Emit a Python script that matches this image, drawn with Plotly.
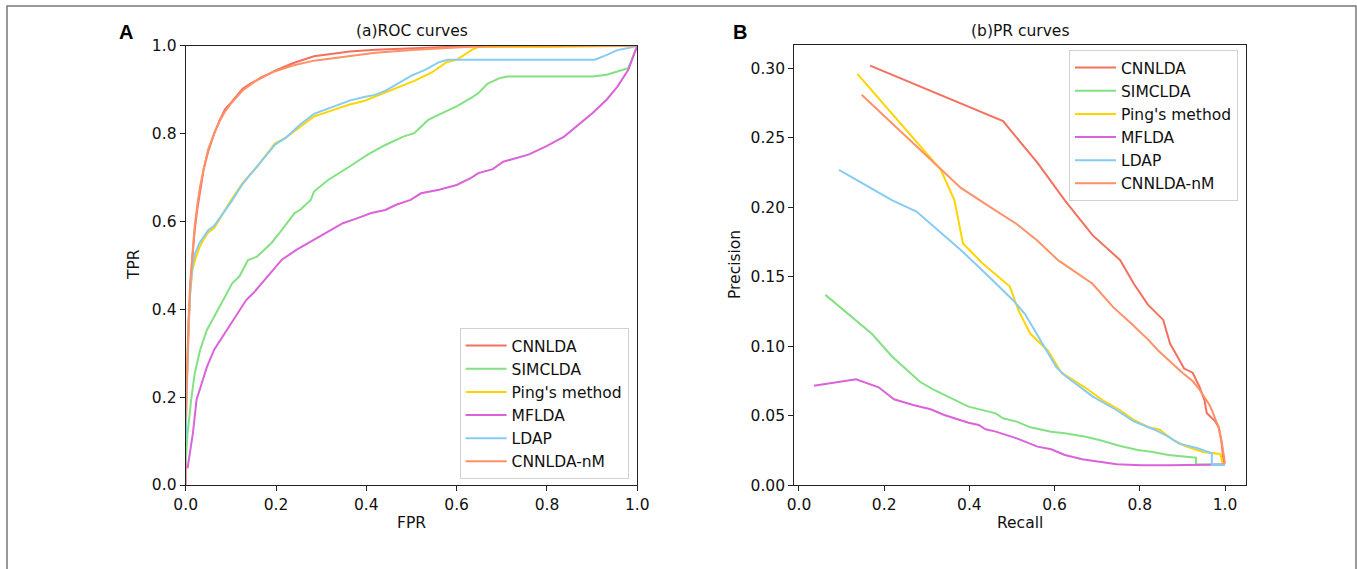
import plotly.graph_objects as go

# ---------------- data ----------------
methods = ["CNNLDA", "SIMCLDA", "Ping's method", "MFLDA", "LDAP", "CNNLDA-nM"]
colors = ["#F4705F", "#82E282", "#FFD400", "#DA62DA", "#86CBF5", "#FF9166"]

# ROC curves (FPR, TPR)
roc_cnnlda_fpr = [0, 0, 0.003, 0.006, 0.010, 0.015, 0.020, 0.026, 0.032, 0.040, 0.050, 0.063, 0.075, 0.087, 0.100,
                  0.126, 0.145, 0.166, 0.198, 0.237, 0.284, 0.330, 0.363, 0.420, 0.521, 0.600, 0.650, 0.800, 1.0]
roc_cnnlda_tpr = [0, 0.13, 0.25, 0.35, 0.45, 0.52, 0.58, 0.63, 0.67, 0.72, 0.76, 0.80, 0.83, 0.855, 0.87,
                  0.902, 0.915, 0.926, 0.943, 0.960, 0.976, 0.982, 0.987, 0.991, 0.995, 0.998, 1.0, 1.0, 1.0]

roc_simclda_fpr = [0, 0.004, 0.012, 0.020, 0.032, 0.047, 0.063, 0.083, 0.103, 0.119, 0.138, 0.158, 0.190, 0.213,
                   0.241, 0.253, 0.277, 0.284, 0.316, 0.363, 0.403, 0.442, 0.482, 0.506, 0.537, 0.569, 0.600, 0.632,
                   0.648, 0.668, 0.695, 0.711, 0.800, 0.901, 0.932, 0.956, 0.980, 1.0]
roc_simclda_tpr = [0.05, 0.117, 0.193, 0.254, 0.308, 0.353, 0.383, 0.421, 0.459, 0.475, 0.512, 0.52, 0.551, 0.581,
                   0.619, 0.626, 0.649, 0.668, 0.695, 0.725, 0.752, 0.774, 0.793, 0.801, 0.831, 0.847, 0.862, 0.881,
                   0.892, 0.913, 0.926, 0.930, 0.930, 0.930, 0.934, 0.941, 0.949, 1.0]

roc_ping_fpr = [0, 0.003, 0.006, 0.010, 0.015, 0.020, 0.030, 0.040, 0.050, 0.063, 0.087, 0.101, 0.126, 0.158,
                0.198, 0.221, 0.253, 0.284, 0.316, 0.363, 0.395, 0.419, 0.442, 0.482, 0.506, 0.545, 0.577, 0.600,
                0.624, 0.636, 0.648, 0.700, 0.800, 1.0]
roc_ping_tpr = [0.14, 0.26, 0.36, 0.44, 0.49, 0.51, 0.54, 0.56, 0.575, 0.585, 0.626, 0.649, 0.687, 0.725,
                0.778, 0.79, 0.815, 0.839, 0.85, 0.866, 0.874, 0.884, 0.895, 0.910, 0.920, 0.939, 0.962, 0.968,
                0.983, 0.992, 0.997, 0.997, 0.997, 1.0]

roc_mflda_fpr = [0.004, 0.016, 0.024, 0.047, 0.063, 0.087, 0.111, 0.134, 0.150, 0.182, 0.213, 0.245, 0.284, 0.316,
                 0.348, 0.379, 0.411, 0.442, 0.466, 0.498, 0.521, 0.561, 0.600, 0.632, 0.648, 0.680, 0.703, 0.759,
                 0.798, 0.838, 0.869, 0.901, 0.932, 0.956, 0.980, 1.0]
roc_mflda_tpr = [0.038, 0.118, 0.194, 0.269, 0.308, 0.346, 0.383, 0.421, 0.437, 0.475, 0.513, 0.535, 0.558, 0.577,
                 0.596, 0.607, 0.619, 0.626, 0.638, 0.649, 0.664, 0.672, 0.683, 0.699, 0.710, 0.719, 0.736, 0.752,
                 0.771, 0.793, 0.820, 0.847, 0.877, 0.907, 0.945, 1.0]

roc_ldap_fpr = [0, 0.003, 0.006, 0.010, 0.015, 0.020, 0.030, 0.040, 0.050, 0.063, 0.087, 0.101, 0.126, 0.158,
                0.198, 0.221, 0.253, 0.284, 0.316, 0.363, 0.395, 0.419, 0.442, 0.482, 0.500, 0.530, 0.560, 0.580,
                0.700, 0.800, 0.906, 0.930, 0.956, 0.980, 1.0]
roc_ldap_tpr = [0.10, 0.25, 0.36, 0.44, 0.50, 0.525, 0.55, 0.565, 0.58, 0.59, 0.625, 0.645, 0.685, 0.725,
                0.775, 0.79, 0.82, 0.845, 0.857, 0.875, 0.883, 0.888, 0.897, 0.92, 0.932, 0.945, 0.962, 0.968,
                0.968, 0.968, 0.968, 0.978, 0.99, 0.995, 1.0]

roc_nm_fpr = [0, 0.003, 0.006, 0.010, 0.015, 0.020, 0.026, 0.032, 0.040, 0.050, 0.063, 0.075, 0.087, 0.100, 0.126,
              0.145, 0.166, 0.198, 0.237, 0.284, 0.330, 0.380, 0.420, 0.500, 0.560, 0.620, 0.680, 0.800, 1.0]
roc_nm_tpr = [0.15, 0.27, 0.37, 0.46, 0.53, 0.59, 0.64, 0.68, 0.72, 0.765, 0.80, 0.828, 0.85, 0.868, 0.898,
              0.913, 0.928, 0.942, 0.955, 0.966, 0.972, 0.98, 0.984, 0.99, 0.994, 0.997, 0.999, 1.0, 1.0]

# PR curves (Recall, Precision)
pr_cnnlda_rec = [0.167, 0.479, 0.560, 0.624, 0.689, 0.754, 0.786, 0.819, 0.855, 0.871, 0.884, 0.904, 0.924, 0.940,
                 0.952, 0.957, 0.977, 0.985, 0.991, 0.997, 1.0]
pr_cnnlda_pre = [0.302, 0.262, 0.232, 0.205, 0.180, 0.162, 0.145, 0.130, 0.119, 0.102, 0.095, 0.084, 0.081, 0.071,
                 0.061, 0.052, 0.046, 0.042, 0.033, 0.016, 0.015]

pr_simclda_rec = [0.062, 0.171, 0.219, 0.284, 0.317, 0.398, 0.462, 0.479, 0.511, 0.543, 0.592, 0.624, 0.673, 0.705,
                  0.754, 0.795, 0.827, 0.867, 0.932, 0.932, 1.0]
pr_simclda_pre = [0.137, 0.109, 0.0925, 0.0745, 0.0686, 0.0566, 0.0518, 0.0482, 0.0458, 0.0417, 0.0386, 0.0374,
                  0.035, 0.0326, 0.0283, 0.0254, 0.0242, 0.0218, 0.0199, 0.0149, 0.015]

pr_ping_rec = [0.137, 0.333, 0.365, 0.385, 0.430, 0.495, 0.515, 0.543, 0.584, 0.616, 0.673, 0.714, 0.754, 0.786,
               0.819, 0.847, 0.876, 0.908, 0.948, 0.989, 0.995, 1.0]
pr_ping_pre = [0.296, 0.227, 0.205, 0.174, 0.160, 0.143, 0.126, 0.109, 0.097, 0.081, 0.070, 0.061, 0.054, 0.047,
               0.042, 0.040, 0.033, 0.028, 0.024, 0.0225, 0.015, 0.015]

pr_mflda_rec = [0.035, 0.134, 0.187, 0.223, 0.268, 0.309, 0.341, 0.398, 0.422, 0.438, 0.462, 0.511, 0.560, 0.592,
                0.624, 0.665, 0.705, 0.746, 0.803, 0.867, 1.0]
pr_mflda_pre = [0.0717, 0.0763, 0.0705, 0.0619, 0.0578, 0.0547, 0.0506, 0.045, 0.0434, 0.0403, 0.0386, 0.0338,
                0.0278, 0.0259, 0.0218, 0.0187, 0.017, 0.0151, 0.0144, 0.0144, 0.015]

pr_ldap_rec = [0.094, 0.219, 0.276, 0.381, 0.446, 0.503, 0.531, 0.552, 0.576, 0.604, 0.624, 0.689, 0.746, 0.786,
               0.835, 0.867, 0.892, 0.932, 0.969, 0.969, 1.0]
pr_ldap_pre = [0.227, 0.205, 0.197, 0.169, 0.150, 0.133, 0.123, 0.112, 0.100, 0.085, 0.079, 0.064, 0.054, 0.046,
               0.040, 0.035, 0.030, 0.027, 0.023, 0.0148, 0.0148]

pr_nm_rec = [0.147, 0.240, 0.333, 0.380, 0.450, 0.511, 0.560, 0.608, 0.689, 0.738, 0.778, 0.819, 0.843, 0.867,
             0.900, 0.924, 0.940, 0.965, 0.985, 0.993, 1.0]
pr_nm_pre = [0.281, 0.254, 0.227, 0.214, 0.200, 0.188, 0.176, 0.162, 0.145, 0.128, 0.117, 0.105, 0.097, 0.090,
             0.081, 0.075, 0.069, 0.057, 0.042, 0.030, 0.016]

roc_x = [roc_cnnlda_fpr, roc_simclda_fpr, roc_ping_fpr, roc_mflda_fpr, roc_ldap_fpr, roc_nm_fpr]
roc_y = [roc_cnnlda_tpr, roc_simclda_tpr, roc_ping_tpr, roc_mflda_tpr, roc_ldap_tpr, roc_nm_tpr]
pr_x = [pr_cnnlda_rec, pr_simclda_rec, pr_ping_rec, pr_mflda_rec, pr_ldap_rec, pr_nm_rec]
pr_y = [pr_cnnlda_pre, pr_simclda_pre, pr_ping_pre, pr_mflda_pre, pr_ldap_pre, pr_nm_pre]

roc_ticks = [0.0, 0.2, 0.4, 0.6, 0.8, 1.0]
pr_yticks = [0.00, 0.05, 0.10, 0.15, 0.20, 0.25, 0.30]

# ---------------- figure ----------------
W, H = 1357, 569
FONT = "DejaVu Sans"
FS = 15.5
fig = go.Figure()

for i, m in enumerate(methods):
    fig.add_trace(go.Scatter(x=roc_x[i], y=roc_y[i], mode="lines", name=m,
                             line=dict(color=colors[i], width=2), xaxis="x", yaxis="y",
                             legend="legend"))
for i, m in enumerate(methods):
    fig.add_trace(go.Scatter(x=pr_x[i], y=pr_y[i], mode="lines", name=m,
                             line=dict(color=colors[i], width=2), xaxis="x2", yaxis="y2",
                             legend="legend2"))


def px(x):
    return x / W


def py(y):
    return 1 - y / H


axis_common = dict(showline=True, mirror=True, linecolor="#222", linewidth=1.2, ticks="outside",
                   ticklen=5, tickwidth=1.2, tickcolor="#222", showgrid=False, zeroline=False,
                   automargin=False, tickfont=dict(family=FONT, size=FS, color="#111"))

fig.update_layout(
    template="none",
    width=W, height=H,
    margin=dict(l=0, r=0, t=0, b=0, pad=0, autoexpand=False),
    paper_bgcolor="white", plot_bgcolor="white",
    font=dict(family=FONT, size=FS, color="#111"),
    xaxis=dict(domain=[px(185.7), px(637.3)], range=[0, 1], tickvals=roc_ticks,
               ticktext=[f"{v:.1f}" for v in roc_ticks], anchor="y", **axis_common),
    yaxis=dict(domain=[py(485), py(45.7)], range=[0, 1], tickvals=roc_ticks,
               ticktext=[f"{v:.1f}" for v in roc_ticks], anchor="x", **axis_common),
    xaxis2=dict(domain=[px(794.3), px(1245.7)], range=[-0.011, 1.0486], tickvals=roc_ticks,
                ticktext=[f"{v:.1f}" for v in roc_ticks], anchor="y2", **axis_common),
    yaxis2=dict(domain=[py(485.3), py(45)], range=[0.0, 0.3168], tickvals=pr_yticks,
                ticktext=[f"{v:.2f}" for v in pr_yticks], anchor="x2", **axis_common),
    legend=dict(x=px(628.6), y=py(479), xanchor="right", yanchor="bottom",
                bgcolor="rgba(255,255,255,0.85)", bordercolor="#d0d0d0", borderwidth=1,
                font=dict(family=FONT, size=FS, color="#111"), itemwidth=41, tracegroupgap=0),
    legend2=dict(x=px(1238), y=py(50), xanchor="right", yanchor="top",
                 bgcolor="rgba(255,255,255,0.85)", bordercolor="#d0d0d0", borderwidth=1,
                 font=dict(family=FONT, size=FS, color="#111"), itemwidth=41, tracegroupgap=0),
    showlegend=True,
)

annotations = [
    dict(text="(a)ROC curves", x=px(411.5), y=py(31), xanchor="center", yanchor="middle"),
    dict(text="(b)PR curves", x=px(1020), y=py(31), xanchor="center", yanchor="middle"),
    dict(text="<b>A</b>", x=px(126), y=py(32), xanchor="center", yanchor="middle",
         font=dict(family="Liberation Sans", size=20, color="#000")),
    dict(text="<b>B</b>", x=px(740), y=py(32), xanchor="center", yanchor="middle",
         font=dict(family="Liberation Sans", size=20, color="#000")),
    dict(text="FPR", x=px(411.5), y=py(523), xanchor="center", yanchor="middle"),
    dict(text="Recall", x=px(1020), y=py(523), xanchor="center", yanchor="middle"),
    dict(text="TPR", x=px(134), y=py(265), xanchor="center", yanchor="middle", textangle=-90),
    dict(text="Precision", x=px(735), y=py(265), xanchor="center", yanchor="middle", textangle=-90),
]
for a in annotations:
    a.setdefault("font", dict(family=FONT, size=FS, color="#111"))
    a.update(xref="paper", yref="paper", showarrow=False)
fig.update_layout(annotations=annotations)

fig.add_shape(type="rect", xref="paper", yref="paper", x0=px(7), x1=px(1356), y0=-0.05, y1=py(6),
              line=dict(color="#777", width=1.5), fillcolor="rgba(0,0,0,0)", layer="below")

fig.write_html(
    "out.html",
    config={"displayModeBar": False},
    post_script="document.body.style.margin='0';document.body.style.padding='0';"
                "document.body.style.overflow='hidden';document.documentElement.style.overflow='hidden';",
)
